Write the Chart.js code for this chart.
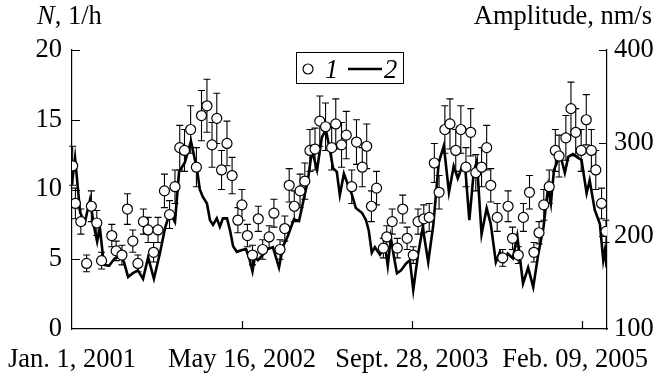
<!DOCTYPE html>
<html lang="en">
<head>
<meta charset="UTF-8">
<title>N and amplitude, 2001-2005</title>
<script src="https://cdn.jsdelivr.net/npm/chart.js"></script>
<style>
  html, body { margin: 0; padding: 0; background: #fff; }
</style>
</head>
<body>
<canvas id="grafico" width="656" height="373"></canvas>
<script>
// x values are days since Jan. 1, 2001
const xTickDays = [0, 500, 1000, 1500];
const xTickLabels = ['Jan. 1, 2001', 'May 16, 2002', 'Sept. 28, 2003', 'Feb. 09, 2005'];

// curve 1: N, 1/h with error bars (left axis)
const nDays = [2,10,26,43,57,73,87,117,130,147, 163,179,194,210,224,240,253,272,287,303,
  317,331,349,366,381,397,412,426,440,456, 471,488,500,516,531,548,561,580,594,612,
  626,639,654,671,685,700,715,729,746,764, 776,793,807,823,837,854,867,881,896,916,
  926,942,957,973,986,1004,1018,1035,1051,1066, 1080,1097,1112,1129,1144,1159,1173,1188,1205,1220,
  1232,1251,1267,1283,1296,1313,1328,1346,1359,1374, 1388,1404,1422,1433,1453,1468,1482,1498,1513,1528,
  1541,1558,1571];
const nValues = [11.7,9.0,7.7,4.7,8.8,7.6,4.9,6.7,5.6,5.3, 8.6,6.3,4.7,7.7,7.1,5.5,7.1,9.9,8.2,10.2,
  13.0,12.8,14.3,11.6,15.3,16.0,13.2,15.1,11.4,13.3, 11.0,7.8,8.9,6.7,5.3,7.9,5.7,6.6,8.3,5.7,
  7.2,10.3,8.8,9.9,10.6,12.8,12.9,14.9,14.5,13.0, 14.7,13.2,13.9,10.2,13.4,11.6,13.1,8.8,10.1,5.8,
  6.6,7.7,5.8,8.6,6.5,5.3,7.7,7.9,8.0,11.9, 9.8,14.3,14.7,12.8,14.3,11.6,14.1,11.2,11.6,13.0,
  10.3,8.0,5.1,8.8,6.5,5.3,8.0,9.8,5.5,6.9, 8.9,10.2,12.8,12.4,13.7,15.8,14.1,12.8,15.0,12.8,
  11.4,9.0,7.0];
const nErrors = [1.4,1.1,0.9,0.6,1.1,0.9,0.6,0.8,0.7,0.7, 1.1,0.8,0.6,0.9,0.9,0.7,0.9,1.2,1.0,1.2,
  1.6,1.5,1.7,1.4,1.8,1.9,1.6,1.8,1.4,1.6, 1.3,0.9,1.1,0.8,0.7,0.9,0.7,0.8,1.0,0.7,
  0.9,1.2,1.1,1.2,1.3,1.5,1.5,1.8,1.7,1.6, 1.8,1.6,1.7,1.2,1.6,1.4,1.6,1.1,1.2,0.7,
  0.8,0.9,0.7,1.0,0.8,0.6,0.9,1.0,1.0,1.4, 1.2,1.7,1.8,1.5,1.7,1.4,1.7,1.3,1.4,1.6,
  1.2,1.0,0.6,1.1,0.8,0.6,1.0,1.2,0.7,0.8, 1.1,1.2,1.5,1.5,1.6,1.9,1.7,1.5,1.8,1.5,
  1.4,1.1,0.8];

// curve 2: amplitude, nm/s (right axis)
const ampDays = [0,9,24,38,53,65,74,82,94,109, 126,141,153,165,179,194,209,224,241,259,
  274,288,303,315,332,350,368,376,385,397, 406,415,426,435,444,456,465,474,485,500,
  512,523,531,538,547,562,576,591,609,621, 635,653,668,679,694,706,721,735,747,759,
  768,779,788,800,812,824,835,853,865,873, 882,891,906,921,929,938,947,956,968,982,
  994,1004,1018,1032,1048,1063,1079,1094,1109,1123, 1135,1147,1157,1169,1182,1191,1205,1220,1232,1247,
  1259,1271,1282,1297,1310,1327,1342,1357,1372,1387, 1401,1409,1418,1430,1438,1450,1460,1474,1489,1499,
  1514,1523,1538,1553,1563,1568,1573];
const ampValues = [256,284,225,215,239,210,194,209,169,168, 176,178,172,156,160,163,154,177,154,182,
  209,225,215,269,279,302,271,250,242,235, 217,212,219,210,219,219,206,189,183,185,
  186,174,162,177,174,180,186,188,166,189, 200,218,216,235,260,292,271,306,314,292,
  273,269,244,267,255,244,230,225,217,206, 182,188,180,189,168,198,178,160,163,170,
  174,142,180,209,172,212,279,297,247,275, 262,274,273,217,269,280,202,230,213,172,
  183,173,181,176,200,149,166,145,181,209, 253,235,271,282,285,268,285,288,284,282,
  246,260,228,213,174,185,166];

const FONT = 'Liberation Serif';
const FSIZE = 26.5;
Chart.defaults.font.family = FONT;
Chart.defaults.font.size = FSIZE;
Chart.defaults.color = '#000';

// error bars under the circles
const errorBars = {
  id: 'errorBars',
  beforeDatasetsDraw(chart) {
    const ctx = chart.ctx;
    const yScale = chart.scales.y;
    const meta = chart.getDatasetMeta(0);
    ctx.save();
    ctx.strokeStyle = '#000';
    ctx.lineWidth = 1.1;
    meta.data.forEach((pt, i) => {
      const top = yScale.getPixelForValue(nValues[i] + nErrors[i]);
      const bot = yScale.getPixelForValue(nValues[i] - nErrors[i]);
      ctx.beginPath();
      ctx.moveTo(pt.x, top); ctx.lineTo(pt.x, bot);
      ctx.moveTo(pt.x - 3.5, top); ctx.lineTo(pt.x + 3.5, top);
      ctx.moveTo(pt.x - 3.5, bot); ctx.lineTo(pt.x + 3.5, bot);
      ctx.stroke();
    });
    ctx.restore();
  }
};

// inward tick marks, axis headings and boxed legend
const decorations = {
  id: 'decorations',
  afterDraw(chart) {
    const ctx = chart.ctx;
    const a = chart.chartArea;
    const len = 8;
    ctx.save();
    ctx.strokeStyle = '#000';
    ctx.lineWidth = 1.2;
    ctx.beginPath();
    chart.scales.y.ticks.forEach(t => {
      if (t.value === chart.scales.y.min) return;
      const py = Math.round(chart.scales.y.getPixelForValue(t.value)) + 0.5;
      ctx.moveTo(a.left, py); ctx.lineTo(a.left + len, py);
    });
    chart.scales.y2.ticks.forEach(t => {
      if (t.value === chart.scales.y2.min) return;
      const py = Math.round(chart.scales.y2.getPixelForValue(t.value)) + 0.5;
      ctx.moveTo(a.right, py); ctx.lineTo(a.right - len, py);
    });
    chart.scales.x.ticks.forEach(t => {
      if (t.value === chart.scales.x.min) return;
      const px = Math.round(chart.scales.x.getPixelForValue(t.value)) + 0.5;
      ctx.moveTo(px, a.bottom); ctx.lineTo(px, a.bottom - len);
    });
    ctx.stroke();

    // headings
    ctx.fillStyle = '#000';
    ctx.textBaseline = 'alphabetic';
    ctx.textAlign = 'left';
    ctx.font = 'italic ' + FSIZE + 'px ' + FONT;
    ctx.fillText('N', 37, 24);
    const wN = ctx.measureText('N').width;
    ctx.font = FSIZE + 'px ' + FONT;
    ctx.fillText(', 1/h', 37 + wN, 24);
    ctx.textAlign = 'right';
    ctx.fillText('Amplitude, nm/s', 652, 24);

    // legend
    ctx.lineWidth = 1;
    ctx.strokeRect(296.5, 52.5, 107, 31);
    ctx.beginPath();
    ctx.arc(308, 69, 5, 0, Math.PI * 2);
    ctx.fillStyle = '#fff';
    ctx.fill();
    ctx.lineWidth = 1.2;
    ctx.stroke();
    ctx.fillStyle = '#000';
    ctx.textAlign = 'left';
    ctx.font = 'italic ' + FSIZE + 'px ' + FONT;
    ctx.fillText('1', 325, 78);
    ctx.beginPath();
    ctx.lineWidth = 2.6;
    ctx.moveTo(348, 69); ctx.lineTo(382, 69);
    ctx.stroke();
    ctx.fillText('2', 384, 78);
    ctx.restore();
  }
};

const ctx = document.getElementById('grafico').getContext('2d');
new Chart(ctx, {
  type: 'scatter',
  data: {
    datasets: [
      {
        label: '1',
        data: nDays.map((d, i) => ({ x: d, y: nValues[i] })),
        yAxisID: 'y',
        showLine: false,
        pointRadius: 5,
        pointBackgroundColor: '#fff',
        pointBorderColor: '#000',
        pointBorderWidth: 1.2
      },
      {
        label: '2',
        data: ampDays.map((d, i) => ({ x: d, y: ampValues[i] })),
        yAxisID: 'y2',
        showLine: true,
        borderColor: '#000',
        borderWidth: 2.6,
        pointRadius: 0,
        tension: 0
      }
    ]
  },
  options: {
    responsive: false,
    animation: false,
    devicePixelRatio: 1,
    layout: { padding: { top: 50, left: 0, right: 0, bottom: 0 } },
    plugins: { legend: { display: false }, tooltip: { enabled: false } },
    scales: {
      x: {
        type: 'linear',
        min: 0,
        max: 1574,
        grid: { display: false, drawTicks: false },
        border: { color: '#000', width: 1.2 },
        afterBuildTicks: s => { s.ticks = xTickDays.map(v => ({ value: v })); },
        ticks: {
          padding: 15,
          maxRotation: 0,
          autoSkip: false,
          // last label sits a little left of its tick, as in the original
          callback: (v, i) => xTickLabels[i] + (i === xTickLabels.length - 1 ? '  ' : '')
        },
        afterFit: s => { s.height = 44; s.paddingLeft = 0; s.paddingRight = 0; }
      },
      y: {
        position: 'left',
        min: 0,
        max: 20,
        grid: { display: false, drawTicks: false },
        border: { color: '#000', width: 1.2 },
        ticks: { stepSize: 5, padding: 10 },
        afterFit: s => { s.width = 72; s.paddingTop = 0; s.paddingBottom = 0; }
      },
      y2: {
        position: 'right',
        min: 100,
        max: 400,
        grid: { display: false, drawTicks: false },
        border: { color: '#000', width: 1.2 },
        ticks: { stepSize: 100, padding: 7 },
        afterFit: s => { s.width = 49; s.paddingTop = 0; s.paddingBottom = 0; }
      }
    }
  },
  plugins: [errorBars, decorations]
});
</script>
</body>
</html>
